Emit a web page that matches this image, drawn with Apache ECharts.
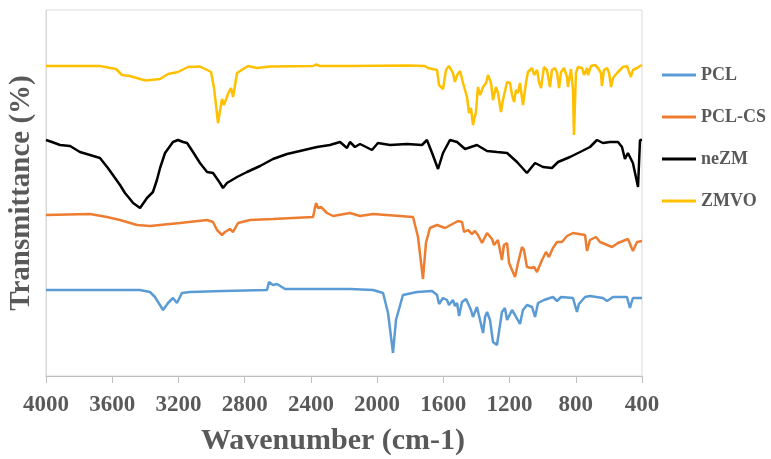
<!DOCTYPE html>
<html>
<head>
<meta charset="utf-8">
<script src="https://cdn.jsdelivr.net/npm/echarts@6/dist/echarts.min.js"></script>
<style>
  html, body { margin: 0; padding: 0; background: #fff; }
  #chart { width: 771px; height: 459px; }
</style>
</head>
<body>
<div id="chart"></div>
<script>
// 系列名称
const seriesNames = ['PCL', 'PCL-CS', 'neZM', 'ZMVO']
const seriesColors = ['#5B9BD5', '#ED7D31', '#000000', '#FFC000']

// x 轴范围 (cm-1)
const xMin = 400
const xMax = 4000
const xStep = 400

// 光谱数据 [波数, 透过率(带偏移)]
const pclData = [
  [4000, 86], [3432, 86], [3372, 84], [3342, 79], [3293, 66], [3263, 73], [3233, 78], [3209, 73],
  [3179, 83], [3130, 84], [2931, 85], [2665, 86], [2653, 94], [2629, 91], [2605, 92], [2556, 87],
  [2424, 87], [2164, 87], [2025, 86], [1964, 83], [1934, 63], [1904, 23], [1886, 56], [1844, 81],
  [1759, 84], [1668, 85], [1638, 81], [1626, 72], [1602, 78], [1578, 76], [1566, 71], [1542, 76],
  [1530, 70], [1517, 73], [1505, 60], [1487, 74], [1463, 77], [1433, 66], [1421, 59], [1397, 69],
  [1385, 68], [1360, 43], [1348, 59], [1336, 64], [1318, 56], [1300, 34], [1276, 31], [1264, 44],
  [1246, 64], [1228, 68], [1215, 56], [1185, 66], [1167, 61], [1137, 52], [1119, 66], [1095, 71],
  [1064, 69], [1046, 59], [1028, 73], [992, 76], [938, 79], [913, 75], [889, 79], [817, 78],
  [793, 64], [781, 72], [744, 79], [714, 80], [636, 78], [611, 75], [575, 79], [491, 79],
  [473, 68], [455, 78], [400, 78]
]

const pclCsData = [
  [4000, 161], [3734, 162], [3632, 159], [3553, 156], [3450, 151], [3372, 150], [3191, 153], [3027, 156],
  [2991, 154], [2967, 146], [2937, 141], [2919, 144], [2889, 147], [2870, 144], [2840, 153], [2768, 156],
  [2629, 157], [2387, 159], [2369, 173], [2357, 168], [2339, 169], [2303, 163], [2266, 160], [2164, 163],
  [2103, 160], [2025, 162], [1783, 159], [1753, 139], [1723, 97], [1705, 133], [1681, 148], [1638, 151],
  [1590, 148], [1511, 155], [1487, 154], [1475, 144], [1451, 146], [1427, 142], [1409, 145], [1391, 141],
  [1366, 133], [1336, 143], [1306, 137], [1294, 131], [1270, 136], [1246, 116], [1234, 131], [1215, 133],
  [1203, 113], [1185, 106], [1167, 99], [1149, 113], [1125, 129], [1113, 126], [1095, 109], [1070, 108],
  [1052, 109], [1034, 104], [1004, 116], [980, 124], [962, 119], [938, 128], [913, 134], [883, 134],
  [853, 140], [817, 143], [744, 141], [732, 125], [714, 136], [678, 139], [654, 134], [581, 129],
  [545, 133], [485, 137], [455, 125], [430, 134], [400, 135]
]

const nezmData = [
  [4000, 236], [3964, 234], [3915, 231], [3855, 230], [3795, 224], [3734, 221], [3674, 218], [3626, 208],
  [3583, 198], [3553, 191], [3523, 183], [3493, 177], [3474, 173], [3432, 168], [3390, 178], [3354, 184],
  [3330, 196], [3311, 208], [3281, 223], [3233, 234], [3203, 236], [3172, 234], [3148, 233], [3112, 224],
  [3070, 213], [3027, 204], [2991, 203], [2949, 193], [2931, 188], [2907, 193], [2846, 199], [2786, 204],
  [2707, 210], [2629, 217], [2544, 222], [2466, 225], [2363, 229], [2285, 231], [2224, 234], [2182, 228],
  [2164, 234], [2134, 229], [2103, 232], [2031, 226], [1995, 233], [1922, 231], [1819, 232], [1729, 231],
  [1699, 236], [1668, 223], [1632, 207], [1602, 223], [1560, 236], [1517, 234], [1469, 227], [1397, 231],
  [1336, 225], [1276, 224], [1215, 223], [1155, 214], [1095, 203], [1046, 213], [998, 209], [944, 208],
  [907, 214], [835, 219], [774, 224], [714, 229], [672, 236], [636, 233], [593, 234], [545, 234],
  [521, 229], [503, 217], [485, 223], [455, 213], [424, 189], [412, 236], [400, 236]
]

const zmvoData = [
  [4000, 310], [3674, 310], [3577, 307], [3541, 301], [3493, 300], [3432, 297], [3396, 295.5], [3311, 297],
  [3263, 302], [3203, 304], [3142, 309], [3070, 309.5], [3027, 306], [3003, 304], [2985, 288], [2961, 253],
  [2937, 277], [2925, 271], [2901, 282], [2883, 288], [2870, 279], [2846, 303], [2780, 310], [2725, 308],
  [2647, 309.5], [2387, 310], [2369, 311.5], [2345, 310], [2164, 310], [1819, 310.5], [1711, 310], [1693, 308],
  [1638, 306], [1626, 291], [1602, 287], [1584, 306], [1566, 310], [1542, 303], [1530, 294], [1517, 301],
  [1499, 305], [1481, 293], [1457, 279], [1445, 263], [1433, 268], [1421, 251], [1403, 264], [1391, 289],
  [1378, 281], [1360, 289], [1342, 293], [1330, 301], [1312, 293], [1300, 276], [1282, 289], [1270, 283],
  [1252, 264], [1240, 276], [1215, 294], [1197, 293], [1185, 281], [1173, 274], [1161, 286], [1149, 283],
  [1137, 293], [1119, 271], [1101, 293], [1089, 304], [1064, 308], [1052, 301], [1034, 306], [1022, 294],
  [1010, 288], [992, 309], [974, 306], [956, 289], [944, 306], [926, 308], [913, 303], [901, 288],
  [889, 304], [871, 308], [853, 299], [847, 289], [829, 307], [817, 286], [811, 241], [799, 303],
  [787, 309], [762, 308], [750, 301], [732, 308], [726, 301], [708, 310], [684, 311], [666, 308],
  [648, 303], [642, 290], [630, 306], [611, 308], [599, 303], [587, 289], [575, 298], [551, 303],
  [533, 306], [515, 309], [491, 310], [479, 308], [467, 299], [455, 306], [430, 308], [412, 310],
  [400, 311]
]

const allData = [pclData, pclCsData, nezmData, zmvoData]

const fontFamily = '"Liberation Serif", "Times New Roman", serif'
const textColor = '#595959'

const chart = echarts.init(document.getElementById('chart'))

const option = {
  animation: false,
  grid: {
    left: 46,
    right: 129,
    top: 10,
    bottom: 83,
    containLabel: false,
    outerBoundsMode: 'none',
    show: true,
    borderColor: '#d9d9d9',
    borderWidth: 1
  },
  legend: {
    orient: 'vertical',
    left: 662,
    top: 66,
    padding: 0,
    itemWidth: 34,
    itemHeight: 3,
    itemGap: 24,
    icon: 'rect',
    data: seriesNames,
    textStyle: {
      fontFamily: fontFamily,
      fontWeight: 'bold',
      fontSize: 18,
      color: textColor
    }
  },
  xAxis: {
    type: 'value',
    inverse: true,
    min: xMin,
    max: xMax,
    interval: xStep,
    name: 'Wavenumber (cm-1)',
    nameLocation: 'middle',
    nameGap: 50,
    nameTextStyle: {
      fontFamily: fontFamily,
      fontWeight: 'bold',
      fontSize: 30,
      color: textColor,
      padding: [0, 22, 0, 0]
    },
    axisLine: { show: true, lineStyle: { color: '#bfbfbf', width: 1 } },
    axisTick: { show: true, length: 7, lineStyle: { color: '#bfbfbf' } },
    splitLine: { show: false },
    axisLabel: {
      margin: 18,
      fontFamily: fontFamily,
      fontWeight: 'bold',
      fontSize: 23,
      color: textColor,
      formatter: (v) => String(v)
    }
  },
  yAxis: {
    type: 'value',
    min: 0,
    max: 366,
    name: 'Transmittance (%)',
    nameLocation: 'middle',
    nameGap: 10,
    nameRotate: 90,
    nameTextStyle: {
      fontFamily: fontFamily,
      fontWeight: 'bold',
      fontSize: 29,
      color: textColor
    },
    axisLine: { show: true, lineStyle: { color: '#d9d9d9' } },
    axisTick: { show: false },
    axisLabel: { show: false },
    splitLine: { show: false }
  },
  series: seriesNames.map((name, i) => ({
    name: name,
    type: 'line',
    data: allData[i],
    showSymbol: false,
    symbol: 'none',
    smooth: false,
    lineStyle: { width: 2.5, color: seriesColors[i] },
    itemStyle: { color: seriesColors[i] }
  }))
}

chart.setOption(option)
</script>
</body>
</html>
